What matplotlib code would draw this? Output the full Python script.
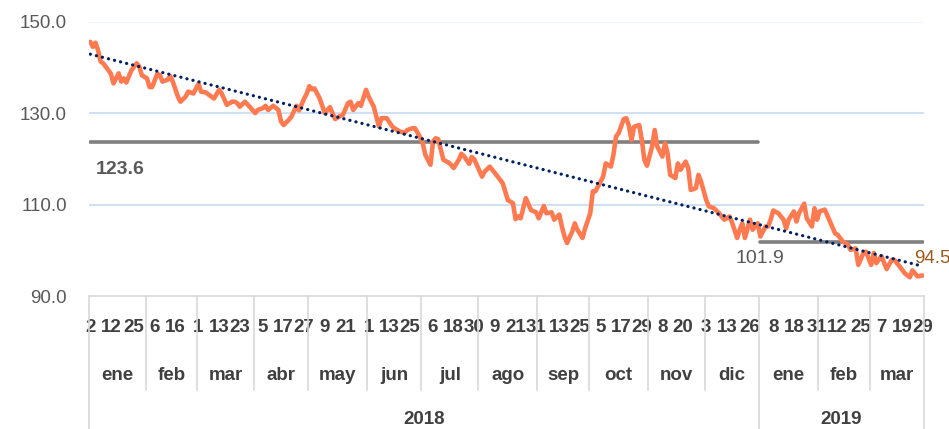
import numpy as np
import pandas as pd
import matplotlib
matplotlib.use("Agg")
from matplotlib import pyplot as plt
from matplotlib.transforms import blended_transform_factory
from matplotlib.lines import Line2D

# dias habiles del periodo (eje de categorias)
fechas = pd.bdate_range("2018-01-02", "2019-03-29")

# lecturas de la serie: dia habil (desde 2 ene 2018) y valor
dia = [0, 1, 2, 3, 4, 5, 7, 8, 9, 11, 12, 13, 14, 15, 16, 18, 19, 20, 22, 23,
       24, 26, 27, 28, 30, 31, 32, 34, 35, 37, 38, 40, 42, 43, 45, 46, 48, 50, 51, 53,
       55, 56, 57, 58, 60, 62, 64, 65, 67, 68, 69, 71, 73, 74, 75, 77, 78, 80, 81, 83,
       84, 85, 86, 87, 89, 90, 91, 93, 94, 95, 97, 98, 100, 101, 102, 104, 105, 107, 108, 110,
       111, 112, 113, 115, 117, 118, 120, 122, 123, 125, 126, 128, 129, 130, 132, 133, 134, 135, 136, 137,
       139, 140, 141, 143, 144, 145, 147, 148, 149, 152, 153, 155, 157, 160, 161, 162, 164, 165, 166, 167,
       169, 171, 173, 174, 176, 177, 179, 180, 182, 183, 184, 185, 187, 188, 189, 191, 192, 194, 195, 196,
       198, 199, 200, 202, 203, 204, 205, 207, 208, 209, 210, 211, 213, 214, 215, 216, 218, 219, 220, 222,
       223, 224, 225, 227, 228, 229, 231, 232, 233, 235, 236, 237, 239, 240, 242, 244, 246, 247, 248, 249,
       251, 252, 253, 254, 256, 257, 259, 260, 262, 263, 264, 265, 267, 269, 270, 271, 273, 274, 275, 277,
       278, 280, 281, 282, 283, 285, 287, 289, 290, 292, 294, 295, 297, 298, 300, 301, 303, 304, 305, 307,
       309, 311, 312, 314, 316, 318, 319, 321, 323]
valor = [145.6, 144.5, 145.4, 143.8, 141.3, 140.9, 139.4, 138.6, 136.5, 138.7, 136.9, 137.6, 136.7, 138.1, 139.4, 140.9, 140.2, 138.3, 137.6, 135.7,
         135.7, 138.6, 138.3, 136.9, 137.3, 138.1, 136.9, 133.6, 132.5, 133.6, 134.7, 134.3, 136.4, 134.7, 134.5, 134.0, 133.2, 135.1, 134.3, 131.8,
         132.5, 132.5, 132.2, 131.4, 132.5, 131.3, 130.0, 130.7, 131.1, 131.6, 130.7, 131.6, 130.7, 128.2, 127.4, 128.5, 129.2, 131.6, 130.6, 133.2,
         134.3, 135.9, 135.2, 135.4, 133.2, 131.6, 130.0, 131.3, 130.0, 128.7, 129.4, 129.6, 132.2, 132.5, 130.7, 132.2, 131.6, 135.1, 133.6, 131.4,
         129.2, 127.1, 128.9, 128.9, 127.2, 126.7, 126.0, 125.7, 126.3, 126.7, 126.7, 124.7, 123.4, 120.9, 118.7, 123.8, 124.5, 124.3, 122.0, 119.8,
         119.2, 118.7, 118.0, 119.8, 121.1, 120.6, 118.9, 120.4, 119.9, 116.1, 117.2, 118.3, 116.9, 114.7, 112.9, 111.0, 110.3, 106.8, 107.4, 107.0,
         111.4, 108.8, 108.3, 107.0, 109.7, 108.1, 108.3, 106.7, 107.8, 105.2, 103.0, 101.6, 104.1, 105.9, 104.5, 102.7, 104.8, 108.1, 112.9, 112.9,
         115.0, 116.1, 119.0, 118.3, 120.9, 124.9, 125.6, 128.7, 128.9, 127.2, 124.1, 127.0, 127.4, 124.1, 119.8, 118.5, 122.7, 126.3, 122.7, 120.5,
         123.4, 121.2, 116.5, 115.8, 119.0, 117.6, 119.4, 118.0, 113.2, 113.6, 116.5, 115.0, 111.0, 109.6, 109.2, 108.1, 106.7, 107.0, 107.4, 106.1,
         102.7, 104.5, 105.9, 102.7, 106.7, 104.5, 105.9, 103.0, 105.2, 105.2, 106.7, 108.7, 108.1, 106.7, 104.8, 106.7, 108.5, 106.3, 108.1, 110.2,
         107.0, 105.2, 109.2, 106.7, 108.5, 108.9, 106.3, 103.7, 103.4, 101.9, 101.2, 100.1, 100.4, 96.8, 99.4, 99.7, 96.8, 99.4, 97.2, 98.7,
         95.9, 97.9, 97.9, 96.5, 95.0, 94.1, 95.6, 94.3, 94.5]

# promedios por anio y tendencia lineal (inicio, fin)
anios = [2018, 2019]
promedios = [123.6, 101.9]
tendencia = [142.9, 96.5]
ultimo = 94.5

meses = ["ene", "feb", "mar", "abr", "may", "jun", "jul", "ago", "sep", "oct", "nov", "dic"]
dias_etiqueta = {
    (2018, 1): [2, 12, 25], (2018, 2): [6, 16], (2018, 3): [1, 13, 23],
    (2018, 4): [5, 17, 27], (2018, 5): [9, 21], (2018, 6): [1, 13, 25],
    (2018, 7): [6, 18, 30], (2018, 8): [9, 21, 31], (2018, 9): [13, 25],
    (2018, 10): [5, 17, 29], (2018, 11): [8, 20], (2018, 12): [3, 13, 26],
    (2019, 1): [8, 18, 31], (2019, 2): [12, 25], (2019, 3): [7, 19, 29],
}

plt.rcParams["font.family"] = ["Liberation Sans", "DejaVu Sans"]

fig = plt.figure(figsize=(9.49, 4.29), dpi=100)
ax = fig.add_axes([89 / 949, 1 - 296 / 429, 835 / 949, 274.3 / 429])
n = len(fechas)
ax.set_xlim(-0.5, n - 0.5)
ax.set_ylim(90, 150)

for s in ["top", "right", "left"]:
    ax.spines[s].set_visible(False)
ax.spines["bottom"].set_color("#D9D9D9")
ax.spines["bottom"].set_linewidth(1.2)
ax.set_xticks([])
ax.set_yticks([90, 110, 130, 150])
ax.set_yticklabels(["90.0", "110.0", "130.0", "150.0"])
ax.tick_params(axis="y", length=0, pad=16, labelsize=13.5, labelcolor="#595959")
for g, c in [(110, "#CFE1F3"), (130, "#CFE1F3"), (150, "#EDF3FA")]:
    ax.axhline(g, color=c, lw=1.5, zorder=0)

x = np.array(dia)
y = np.array(valor)

# promedios anuales
anio_idx = np.array([f.year for f in fechas])
for a, p in zip(anios, promedios):
    idx = np.where(anio_idx == a)[0]
    ax.plot([idx[0], idx[-1]], [p, p], color="#7F7F7F", lw=2.6, solid_capstyle="round", zorder=2)

ax.plot(x, y, color="#FF7A50", lw=3.3, solid_joinstyle="round", solid_capstyle="round", zorder=3)

ax.plot([0, n - 1], tendencia, color="#002060", lw=2.3,
        linestyle=(0, (0.05, 1.9)), dash_capstyle="round", zorder=4)

ax.text(2.2, 117.6, "123.6", fontsize=14, fontweight="bold", color="#595959", va="center", ha="left")
ax.text(250.4, 98.1, "101.9", fontsize=14, color="#595959", va="center", ha="left")
ax.text(319.5, 98.3, "%.1f" % ultimo, fontsize=13.5, color="#9C5A1E", va="center", ha="left", clip_on=False)

# eje de categorias en tres niveles
tr = blended_transform_factory(ax.transData, fig.transFigure)
mes_idx = np.array([f.year * 12 + f.month for f in fechas])
cortes = [0] + list(np.where(np.diff(mes_idx) != 0)[0] + 1) + [n]
y_eje = 1 - 296 / 429
for i in range(len(cortes) - 1):
    a, b = cortes[i], cortes[i + 1]
    f0 = fechas[a]
    ax.text((a + b - 1) / 2, 1 - 375 / 429, meses[f0.month - 1], transform=tr, ha="center", va="center",
            fontsize=13.5, fontweight="bold", color="#404040", clip_on=False)
    for d in dias_etiqueta[(f0.year, f0.month)]:
        k = fechas.searchsorted(pd.Timestamp(f0.year, f0.month, d))
        ax.text(k, 1 - 328 / 429, str(d), transform=tr, ha="center", va="center",
                fontsize=13.5, fontweight="bold", color="#404040", clip_on=False)
    if i > 0:
        largo = 0 if fechas[a].year != fechas[a - 1].year else 1 - 390 / 429
        fig.add_artist(Line2D([a - 0.5, a - 0.5], [y_eje, largo], transform=tr, color="#D9D9D9", lw=1.2))
for borde in [-0.5, n - 0.5]:
    fig.add_artist(Line2D([borde, borde], [y_eje, 0], transform=tr, color="#D9D9D9", lw=1.2))
for a in anios:
    idx = np.where(anio_idx == a)[0]
    ax.text((idx[0] + idx[-1]) / 2, 1 - 420 / 429, str(a), transform=tr, ha="center", va="center",
            fontsize=13.5, fontweight="bold", color="#404040", clip_on=False)

fig.savefig("out.png", dpi=100)
